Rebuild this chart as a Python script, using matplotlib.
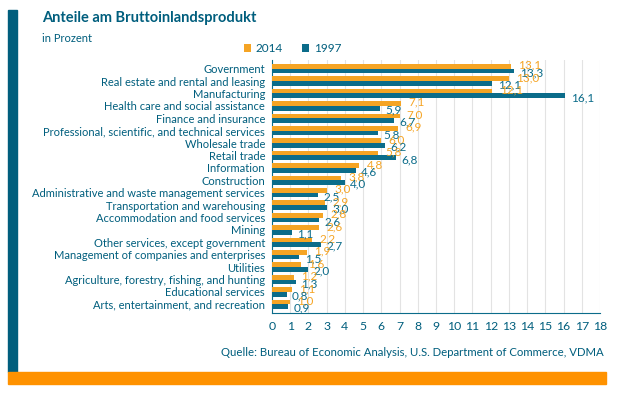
import matplotlib
matplotlib.use("Agg")
import matplotlib.pyplot as plt
import numpy as np
from matplotlib.patches import Rectangle

plt.rcParams['font.family'] = ['Lato', 'DejaVu Sans']

# Daten
kategorien = [
    "Government",
    "Real estate and rental and leasing",
    "Manufacturing",
    "Health care and social assistance",
    "Finance and insurance",
    "Professional, scientific, and technical services",
    "Wholesale trade",
    "Retail trade",
    "Information",
    "Construction",
    "Administrative and waste management services",
    "Transportation and warehousing",
    "Accommodation and food services",
    "Mining",
    "Other services, except government",
    "Management of companies and enterprises",
    "Utilities",
    "Agriculture, forestry, fishing, and hunting",
    "Educational services",
    "Arts, entertainment, and recreation",
]
werte_2014 = [13.1, 13.0, 12.1, 7.1, 7.0, 6.9, 6.0, 5.8, 4.8, 3.8,
              3.0, 2.9, 2.8, 2.6, 2.2, 1.9, 1.6, 1.2, 1.1, 1.0]
werte_1997 = [13.3, 12.1, 16.1, 5.9, 6.7, 5.8, 6.2, 6.8, 4.6, 4.0,
              2.5, 3.0, 2.6, 1.1, 2.7, 1.5, 2.0, 1.3, 0.8, 0.9]
x_ticks = list(range(0, 19))

ORANGE = '#F5A424'
TEAL = '#0B6C8A'
DUNKEL = '#005E7D'
FOOT = '#FF9200'

W, H = 617, 398
fig = plt.figure(figsize=(W / 100, H / 100), dpi=100)

# Seitenbalken und Fußbalken
fig.patches.append(Rectangle((8 / W, 1 - 372 / H), 9 / W, 362 / H,
                             transform=fig.transFigure, color=DUNKEL, zorder=0))
fig.patches.append(Rectangle((8 / W, 1 - 384 / H), 598 / W, 12 / H,
                             transform=fig.transFigure, color=FOOT, zorder=0))

fig.text(42 / W, 1 - 18 / H, "Anteile am Bruttoinlandsprodukt", color=DUNKEL,
         fontsize=10.5, fontweight='bold', va='center', ha='left')
fig.text(42 / W, 1 - 39 / H, "in Prozent", color=DUNKEL, fontsize=8,
         va='center', ha='left')

ax = fig.add_axes([272 / W, 1 - 313 / H, 328 / W, 253 / H])

n = len(kategorien)
y = np.arange(n)
h = 0.38
ax.barh(y - h / 2, werte_2014, height=h, color=ORANGE, label='2014', zorder=3)
ax.barh(y + h / 2, werte_1997, height=h, color=TEAL, label='1997', zorder=3)

for i in range(n):
    ax.text(werte_2014[i] + 0.4, y[i] - 0.28, f"{werte_2014[i]:.1f}".replace('.', ','),
            color=ORANGE, fontsize=8.5, va='center', ha='left', zorder=4)
    ax.text(werte_1997[i] + 0.3, y[i] + 0.32, f"{werte_1997[i]:.1f}".replace('.', ','),
            color=TEAL, fontsize=8.5, va='center', ha='left', zorder=4)

ax.set_ylim(n - 0.3, -0.7)
ax.set_xlim(0, 18)
ax.set_xticks(x_ticks)
ax.set_yticks(y)
ax.set_yticklabels(kategorien)
ax.tick_params(axis='y', length=0, pad=5, labelsize=8, labelcolor=DUNKEL)
ax.tick_params(axis='x', length=0, pad=6, labelsize=8.8, labelcolor=DUNKEL)
ax.grid(axis='x', color='#E3E3E3', linewidth=0.8, zorder=0)
for s in ['top', 'right']:
    ax.spines[s].set_visible(False)
ax.spines['left'].set_color(TEAL)
ax.spines['bottom'].set_color(TEAL)
ax.spines['left'].set_linewidth(0.8)
ax.spines['bottom'].set_linewidth(0.8)

ax.legend(loc='lower left', bbox_to_anchor=(238 / W, 1 - 60 / H), bbox_transform=fig.transFigure,
          ncol=2, frameon=False, fontsize=8.5, handlelength=0.6, handleheight=0.6,
          columnspacing=1.6, handletextpad=0.4, labelcolor=DUNKEL, borderpad=0)

fig.text(604 / W, 1 - 353 / H,
         "Quelle: Bureau of Economic Analysis, U.S. Department of Commerce, VDMA",
         color=DUNKEL, fontsize=8.2, ha='right', va='center')

fig.savefig("out.png", dpi=100)
